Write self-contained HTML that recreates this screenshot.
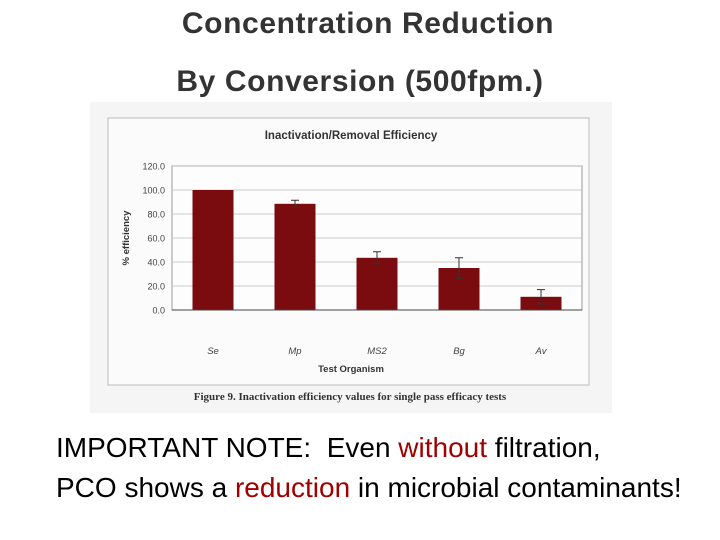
<!DOCTYPE html>
<html><head><meta charset="utf-8"><style>
body{margin:0;width:720px;height:540px;background:#fff;position:relative;overflow:hidden;font-family:"Liberation Sans",sans-serif}
.t{position:absolute;width:720px;text-align:center;font-weight:bold;color:#333;font-size:30px;letter-spacing:0.6px;line-height:34px}
.note{position:absolute;left:56px;font-size:28px;color:#000;line-height:32px;white-space:nowrap}
.r{color:#a00000}
</style></head><body>
<div class="t" style="top:7px;left:8px">Concentration Reduction</div>
<div class="t" style="top:65px;left:0px">By Conversion (500fpm.)</div>
<svg width="720" height="540" style="position:absolute;left:0;top:0">
<rect x="90" y="102" width="522" height="311" fill="#f6f5f5"/>
<rect x="108" y="118" width="481" height="267" fill="#fbfbfb" stroke="#bbb"/>
<text x="351" y="139" font-size="11.5" font-weight="bold" text-anchor="middle" fill="#333">Inactivation/Removal Efficiency</text>
<g id="g"></g>
<text x="351" y="372" font-size="9.5" font-weight="bold" text-anchor="middle" fill="#333">Test Organism</text>
<text transform="translate(129,238) rotate(-90)" font-size="9.5" font-weight="bold" text-anchor="middle" fill="#333">% efficiency</text>
<text x="350" y="400" font-size="11" font-weight="bold" font-family="Liberation Serif,serif" text-anchor="middle" fill="#333">Figure 9.  Inactivation efficiency values for single pass efficacy tests</text>
</svg>
<div class="note" style="top:432px">IMPORTANT NOTE:&nbsp; Even <span class="r">without</span> filtration,</div>
<div class="note" style="top:472px">PCO shows a <span class="r">reduction</span> in microbial contaminants!</div>
<script>
const categories=["Se","Mp","MS2","Bg","Av"];
const values=[100,88.5,43.5,35,11];
const errors=[0,3,5,8.5,6];
const yTicks=[0,20,40,60,80,100,120];
const L=172,R=582,T=166,B=310,ymax=120;
const y=v=>B-(v/ymax)*(B-T);
const bw=(R-L)/categories.length;
const x=i=>L+bw*i+bw/2;
const g=document.getElementById('g');
const NS='http://www.w3.org/2000/svg';
function mk(t,a){const e=document.createElementNS(NS,t);for(const k in a)e.setAttribute(k,a[k]);g.appendChild(e);return e;}
let e=mk('rect',{x:L,y:T,width:R-L,height:B-T,fill:'#fdfdfd',stroke:'#999'});


yTicks.forEach(v=>{
 let l=mk('line',{x1:L,x2:R,y1:y(v),y2:y(v),stroke:'#bbb','stroke-width':0.8});
 
 
 let t=mk('text',{x:L-7,y:y(v)+3.5,'font-size':9,'text-anchor':'end',fill:'#444'});
 t.textContent=v.toFixed(1);
 
 
});
categories.forEach((c,i)=>{
 let b=mk('rect',{x:x(i)-20.5,y:y(values[i]),width:41,height:B-y(values[i]),fill:'#7a0b0e'});
 
 
 if(errors[i]>0){
  let eb=mk('path',{d:`M${x(i)} ${y(values[i]-errors[i])}V${y(values[i]+errors[i])}M${x(i)-4} ${y(values[i]+errors[i])}H${x(i)+4}M${x(i)-4} ${y(values[i]-errors[i])}H${x(i)+4}`,stroke:'#333','stroke-width':1,fill:'none'});
  
  
 }
 let t=mk('text',{x:x(i),y:354,'font-size':9.5,'font-style':'italic','text-anchor':'middle',fill:'#444'});
 t.textContent=c;
 
 
});
let ax=mk('line',{x1:L,x2:R,y1:B,y2:B,stroke:'#444','stroke-width':1});


</script>
</body></html>
